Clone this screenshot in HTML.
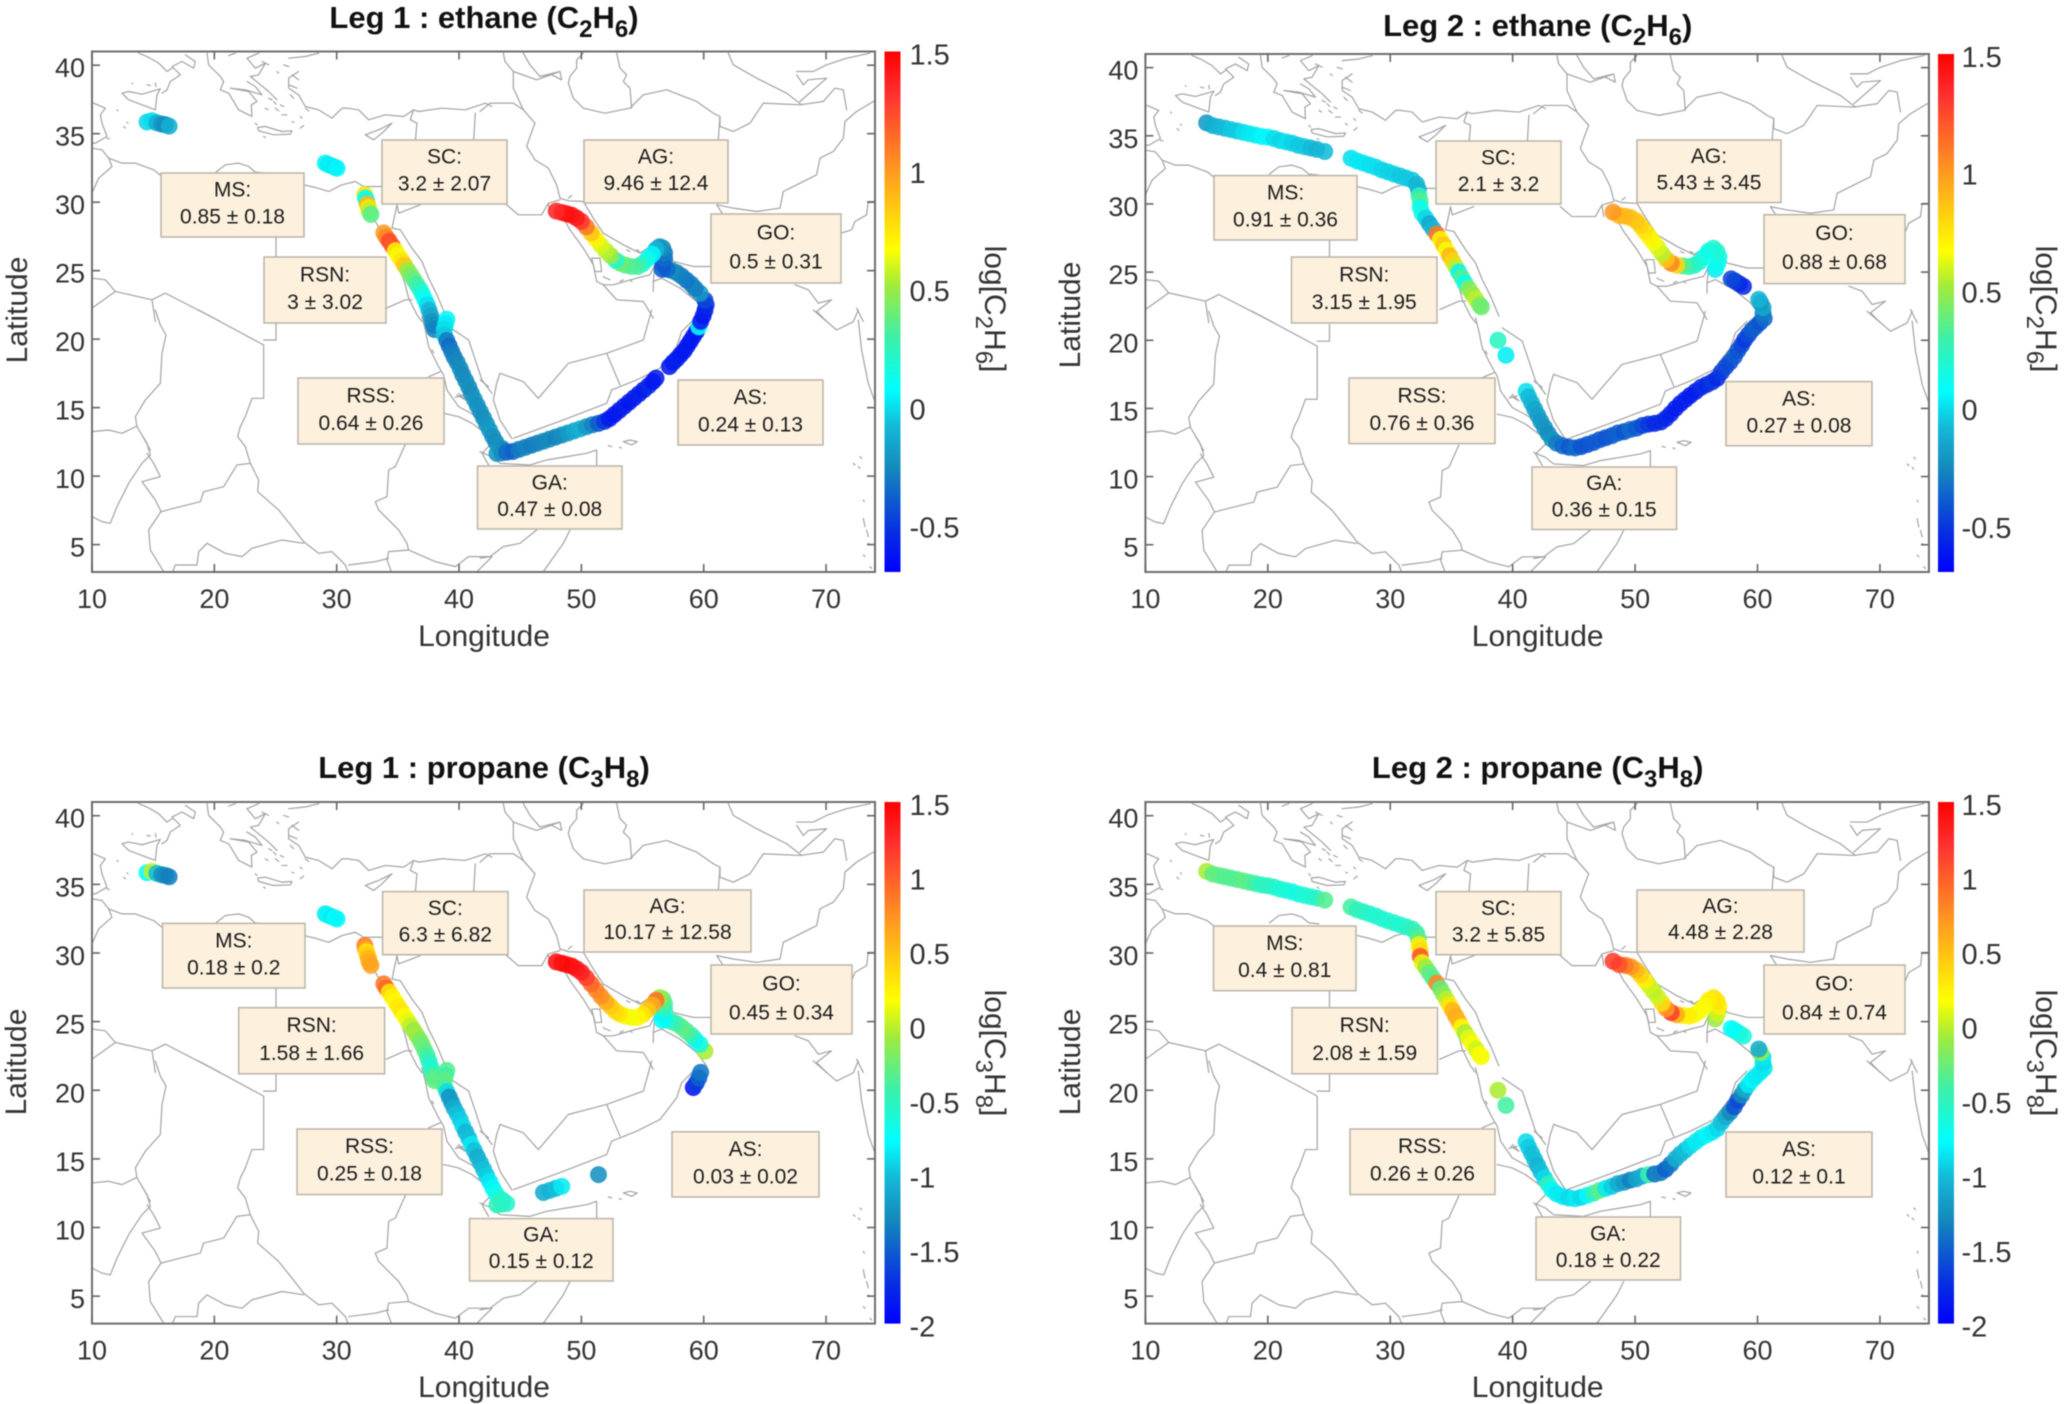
<!DOCTYPE html>
<html lang="en">
<head>
<meta charset="utf-8">
<title>Ethane and propane along ship route</title>
<style>
html,body{margin:0;padding:0;background:#fff;width:2067px;height:1404px;overflow:hidden}
svg#figure{position:absolute;left:0;top:0;font-family:"Liberation Sans",sans-serif;fill:#262626;filter:blur(0.5px)}
.title{font-size:31px;font-weight:bold;text-anchor:middle;fill:#111}
.axis-label{font-size:30px;text-anchor:middle;fill:#333}
.sub{font-size:24px}
.tick-label{font-size:27px;fill:#333}
.cbar-label{font-size:29px;fill:#333}
.box{overflow:visible}
.box rect{fill:#fdf1de;stroke:#b9b4a8;stroke-width:1.5}
.box text{font-size:21px;text-anchor:middle;fill:#1c1c1c}
.map-lines{fill:none;stroke:#a2a2a2;stroke-width:3.6;stroke-linejoin:round;stroke-linecap:round}
.frame{fill:none;stroke:#6e6e6e;stroke-width:2}
.tick{stroke:#666;stroke-width:1.6}
</style>
</head>
<body>
<svg id="figure" xmlns="http://www.w3.org/2000/svg" width="2067" height="1404" viewBox="0 0 2067 1404">
<defs>
<linearGradient id="jet-bar" x1="0" y1="1" x2="0" y2="0"></linearGradient>
<g id="base-map">
  <g class="map-lines" transform="scale(0.3333)">
    <path d="M90 125L110 120L150 128L205 112L195 130L190 175L150 160L110 145Z"/>
    <path d="M140 5L165 15L200 35L225 60L240 50M280 10L310 30L305 50L270 30L240 45L265 70L235 90L225 115L210 125"/>
    <path d="M5 155L40 170L25 190L30 215L45 255L10 275L0 275"/>
    <path d="M0 290L30 295L50 320L90 335L130 335L185 355L210 375"/>
    <path d="M372 362L400 340L440 335L470 345L490 362L520 365"/>
    <path d="M636 400L670 408L710 420L750 400L790 390L815 405L830 405L870 405"/>
    <path d="M50 320L60 345L20 380L0 425"/>
    <path d="M552 558L552 618"/>
    <path d="M0 680L40 685L70 720L180 745L220 725L385 810M180 745L190 810M70 720L0 770"/>
    <path d="M805 410L850 510L880 560L920 640L940 700L950 740L975 790L990 810"/>
    <path d="M915 460L900 530L925 535L960 590L990 630L1010 680L1035 730L1060 790"/>
    <path d="M915 460L920 485L985 460"/>
    <path d="M883 770L940 745L960 745"/>
    <path d="M345 5L350 40L385 75L395 90L385 115L410 125L425 150L440 175L470 190L480 195L478 160L495 150L470 120L415 110L460 115L510 130L490 105L465 90"/>
    <path d="M465 20L490 50L520 35L500 70L475 75L530 120L555 145"/>
    <path d="M465 20L500 5M430 5L410 12"/>
    <path d="M497 228L520 225L570 240L600 238L595 248L545 250L500 238Z"/>
    <path d="M680 5L640 15L590 20M620 60L590 80L590 110L620 130L640 165L680 175L720 200L750 170L765 170L800 175L830 205L880 190L935 195L965 175L955 205L975 215L970 270"/>
    <path d="M965 175L980 180L1050 170L1120 175L1180 155L1200 165"/>
    <path d="M1150 185L1145 270"/>
    <path d="M820 250L860 235L900 215L870 245L845 265Z"/>
    <path d="M510 30L530 40M555 60L560 65M600 70L620 85M590 100L615 110M530 140L540 145M545 150L552 158M565 160L575 165M570 190L585 190M600 210L606 213M625 230L635 222M640 170L650 178M520 170L528 175M550 170L560 178M490 215L495 220M595 130L605 140M575 40L590 45M515 255L520 258M625 195L630 200M95 225L100 230M75 175L78 178M105 212L108 215M45 260L52 262M120 95L122 97M165 100L175 102M190 95L192 105"/>
  </g>
  <g class="map-lines" transform="translate(388,0) scale(0.3333)">
    <path d="M70 5L75 30L100 60L100 110L130 175L165 215L150 255L140 285L165 325L205 350L230 400L240 440L265 448L310 450L340 500L370 545L430 580L480 605L510 585L540 575L580 630L640 645L695 645"/>
    <path d="M1083 545L1115 535L1125 510L1160 490L1165 450L1200 450"/>
    <path d="M720 195L715 265M710 460L760 470L830 480L900 470L910 420L960 395L1010 370L1020 320L1060 300L1090 260L1095 210L1130 180L1180 150L1200 150M710 460L730 490"/>
    <path d="M265 95L280 140L310 170L375 185L450 170L490 130L560 115L650 150L700 185L720 195L720 225L760 240L810 215L850 155L960 160L1030 150L1065 110L1090 115L1100 175"/>
    <path d="M265 95L270 75L290 50L290 25L310 5M410 5L420 50L440 70L430 90L450 110L455 170"/>
    <path d="M745 5L760 40L830 80L920 125L965 160"/>
    <path d="M950 60L1000 60L1040 40L1100 20L1170 5M950 70L970 100L985 85L1040 80L960 150"/>
    <path d="M130 5L150 40L180 75L240 60L245 85L215 70M100 60L170 85L240 60"/>
    <path d="M0 180L30 155L100 155L130 175"/>
    <path d="M80 460L115 490L185 490L205 455L240 445M205 455L210 490"/>
    <path d="M245 490L270 535L310 590L340 640L350 690L370 700L400 700L470 680L510 670L525 640L520 690L545 680L600 710L650 750L680 790"/>
    <path d="M335 620L345 660L365 660L360 620Z"/>
    <path d="M370 700L410 745L490 750L520 800M520 690L520 720"/>
    <path d="M945 700L985 715L1015 755L1055 745L1010 780L1040 810M1130 770L1150 810"/>
    <path d="M380 680L390 685M440 595L450 600M470 595L478 600M370 675L376 680M265 440L275 432M420 690L430 685M450 685L456 690"/>
  </g>
  <g class="map-lines" transform="translate(0,258.5) scale(0.3333)">
    <path d="M320 0L515 105L515 265L480 265L460 320L445 350L437 380L460 410L475 460L500 510L497 545L560 600L600 650L635 695L680 730L720 725L760 765L770 790"/>
    <path d="M515 90L552 90L552 40"/>
    <path d="M190 0L205 45L222 75L210 130L205 220L160 270L130 320L135 350L165 400L175 435L150 460L110 520L75 590L55 640L30 635L0 620"/>
    <path d="M135 348L90 370L50 360L0 365"/>
    <path d="M150 375L175 420M150 515L205 500L185 460L165 430M150 515L190 570L207 605L245 595L325 575L335 545L395 530L435 465L475 460"/>
    <path d="M207 605L170 660L175 720L215 785"/>
    <path d="M240 790L250 765L315 765L320 725L345 700L400 730L450 740L480 715L570 690L635 700"/>
    <path d="M1055 310L1100 320L1140 340L1200 385"/>
    <path d="M940 403L910 470L890 480L885 560L850 575L860 600L920 660L945 700L950 720L890 725L885 750L900 790"/>
    <path d="M950 720L1030 755L1090 770L1130 740L1200 740L1150 790M770 765L850 755L890 745"/>
    <path d="M990 20L1000 60L1010 110L1040 170L1055 195L1065 240L1100 290L1155 320L1200 375"/>
    <path d="M1010 200L1045 185"/>
    <path d="M1070 50L1130 90L1170 210L1200 250"/>
    <path d="M1100 250L1120 270L1095 255M1165 210L1190 230M1020 120L1025 128M1090 262L1115 255M1200 400L1170 430L1190 465"/>
  </g>
  <g class="map-lines" transform="translate(388,258.5) scale(0.3333)">
    <path d="M100 385L250 330L380 280L395 240L470 210L540 175L590 110L605 65L640 30"/>
    <path d="M60 190L130 215L175 265L265 160L380 130L490 90L515 0M380 130L420 225"/>
    <path d="M60 190L50 220L40 270L60 330L95 385"/>
    <path d="M430 395L450 390L472 395L455 405Z"/>
    <path d="M385 407L395 410M418 412L424 414"/>
    <path d="M0 425L35 440L60 460L150 465L200 450L260 440L320 430L350 420L350 470"/>
    <path d="M270 660L250 700L190 785M170 660L120 700L70 710L30 740L0 745"/>
    <path d="M1000 0L1070 60L1120 35L1135 0M1135 30L1145 120L1165 220L1190 290"/>
    <path d="M1120 460L1125 465M1140 440L1145 445M1135 470L1140 475M1150 570L1153 575M1150 625L1155 650M1160 660L1165 680M1150 735L1155 740M1165 700L1170 705M1170 770L1175 775"/>
  </g>
</g>
<clipPath id="panel-clip"><rect x="0" y="0" width="783" height="520.5"/></clipPath>
</defs>

<!-- Panel 1 -->
<g>
  <text class="title" x="484" y="28">Leg 1 : ethane (C<tspan class="sub" dy="9">2</tspan><tspan dy="-9">H</tspan><tspan class="sub" dy="9">6</tspan><tspan dy="-9">)</tspan></text>
  <use href="#base-map" clip-path="url(#panel-clip)" transform="translate(92,51.5)"/>
  <g id="points-0"></g>
  <svg class="box" x="161" y="173" width="143" height="64"><rect width="100%" height="100%"/><text x="50%" y="37%">MS:</text><text x="50%" y="79%">0.85 ± 0.18</text></svg>
  <svg class="box" x="382" y="140" width="125" height="64"><rect width="100%" height="100%"/><text x="50%" y="37%">SC:</text><text x="50%" y="79%">3.2 ± 2.07</text></svg>
  <svg class="box" x="584" y="140" width="144" height="63"><rect width="100%" height="100%"/><text x="50%" y="37%">AG:</text><text x="50%" y="79%">9.46 ± 12.4</text></svg>
  <svg class="box" x="711" y="214" width="130" height="69"><rect width="100%" height="100%"/><text x="50%" y="37%">GO:</text><text x="50%" y="79%">0.5 ± 0.31</text></svg>
  <svg class="box" x="264" y="257" width="122" height="66"><rect width="100%" height="100%"/><text x="50%" y="37%">RSN:</text><text x="50%" y="79%">3 ± 3.02</text></svg>
  <svg class="box" x="298" y="378" width="146" height="66"><rect width="100%" height="100%"/><text x="50%" y="37%">RSS:</text><text x="50%" y="79%">0.64 ± 0.26</text></svg>
  <svg class="box" x="477.500" y="466" width="144.500" height="63"><rect width="100%" height="100%"/><text x="50%" y="37%">GA:</text><text x="50%" y="79%">0.47 ± 0.08</text></svg>
  <svg class="box" x="678" y="380" width="145" height="65"><rect width="100%" height="100%"/><text x="50%" y="37%">AS:</text><text x="50%" y="79%">0.24 ± 0.13</text></svg>
  <rect class="frame" x="92" y="51.5" width="783" height="520.5"/>
  <g id="axes-0"></g>
  <rect x="884.500" y="51.500" width="16" height="520.500" fill="url(#jet-bar)"/>
  <text class="axis-label" x="484" y="646">Longitude</text>
  <text class="axis-label" transform="translate(27,310) rotate(-90)">Latitude</text>
  <text class="axis-label" transform="translate(985,309) rotate(90)">log[C<tspan class="sub" dy="9">2</tspan><tspan dy="-9">H</tspan><tspan class="sub" dy="9">6</tspan><tspan dy="-9">]</tspan></text>
</g>

<!-- Panel 2 -->
<g>
  <text class="title" x="1537.700" y="36">Leg 2 : ethane (C<tspan class="sub" dy="9">2</tspan><tspan dy="-9">H</tspan><tspan class="sub" dy="9">6</tspan><tspan dy="-9">)</tspan></text>
  <use href="#base-map" clip-path="url(#panel-clip)" transform="translate(1145.400,54) scale(1.0006,0.9954)"/>
  <g id="points-1"></g>
  <svg class="box" x="1214" y="175.600" width="143" height="64.400"><rect width="100%" height="100%"/><text x="50%" y="37%">MS:</text><text x="50%" y="79%">0.91 ± 0.36</text></svg>
  <svg class="box" x="1436" y="141" width="125" height="63"><rect width="100%" height="100%"/><text x="50%" y="37%">SC:</text><text x="50%" y="79%">2.1 ± 3.2</text></svg>
  <svg class="box" x="1637" y="140" width="144" height="62.500"><rect width="100%" height="100%"/><text x="50%" y="37%">AG:</text><text x="50%" y="79%">5.43 ± 3.45</text></svg>
  <svg class="box" x="1764" y="214.700" width="141" height="68.900"><rect width="100%" height="100%"/><text x="50%" y="37%">GO:</text><text x="50%" y="79%">0.88 ± 0.68</text></svg>
  <svg class="box" x="1291.500" y="257" width="145.500" height="66"><rect width="100%" height="100%"/><text x="50%" y="37%">RSN:</text><text x="50%" y="79%">3.15 ± 1.95</text></svg>
  <svg class="box" x="1349" y="378" width="146" height="65.600"><rect width="100%" height="100%"/><text x="50%" y="37%">RSS:</text><text x="50%" y="79%">0.76 ± 0.36</text></svg>
  <svg class="box" x="1532" y="467" width="144.500" height="62.500"><rect width="100%" height="100%"/><text x="50%" y="37%">GA:</text><text x="50%" y="79%">0.36 ± 0.15</text></svg>
  <svg class="box" x="1726" y="381.600" width="146" height="64.200"><rect width="100%" height="100%"/><text x="50%" y="37%">AS:</text><text x="50%" y="79%">0.27 ± 0.08</text></svg>
  <rect class="frame" x="1145.400" y="54" width="783.500" height="518"/>
  <g id="axes-1"></g>
  <rect x="1938" y="54" width="16" height="518" fill="url(#jet-bar)"/>
  <text class="axis-label" x="1537.700" y="646">Longitude</text>
  <text class="axis-label" transform="translate(1080,315) rotate(-90)">Latitude</text>
  <text class="axis-label" transform="translate(2036,309) rotate(90)">log[C<tspan class="sub" dy="9">2</tspan><tspan dy="-9">H</tspan><tspan class="sub" dy="9">6</tspan><tspan dy="-9">]</tspan></text>
</g>

<!-- Panel 3 -->
<g>
  <text class="title" x="484" y="778">Leg 1 : propane (C<tspan class="sub" dy="9">3</tspan><tspan dy="-9">H</tspan><tspan class="sub" dy="9">8</tspan><tspan dy="-9">)</tspan></text>
  <use href="#base-map" clip-path="url(#panel-clip)" transform="translate(92,802) scale(1,1.0021)"/>
  <g id="points-2"></g>
  <svg class="box" x="162.500" y="923.400" width="142.500" height="64.600"><rect width="100%" height="100%"/><text x="50%" y="37%">MS:</text><text x="50%" y="79%">0.18 ± 0.2</text></svg>
  <svg class="box" x="382.600" y="891.600" width="125.400" height="63.100"><rect width="100%" height="100%"/><text x="50%" y="37%">SC:</text><text x="50%" y="79%">6.3 ± 6.82</text></svg>
  <svg class="box" x="584" y="890" width="167" height="62"><rect width="100%" height="100%"/><text x="50%" y="37%">AG:</text><text x="50%" y="79%">10.17 ± 12.58</text></svg>
  <svg class="box" x="711" y="965" width="141" height="69"><rect width="100%" height="100%"/><text x="50%" y="37%">GO:</text><text x="50%" y="79%">0.45 ± 0.34</text></svg>
  <svg class="box" x="238.700" y="1007.700" width="145.900" height="66.100"><rect width="100%" height="100%"/><text x="50%" y="37%">RSN:</text><text x="50%" y="79%">1.58 ± 1.66</text></svg>
  <svg class="box" x="297" y="1129" width="145" height="65.500"><rect width="100%" height="100%"/><text x="50%" y="37%">RSS:</text><text x="50%" y="79%">0.25 ± 0.18</text></svg>
  <svg class="box" x="469.500" y="1218.600" width="143.500" height="62.400"><rect width="100%" height="100%"/><text x="50%" y="37%">GA:</text><text x="50%" y="79%">0.15 ± 0.12</text></svg>
  <svg class="box" x="672" y="1131.800" width="147" height="65.200"><rect width="100%" height="100%"/><text x="50%" y="37%">AS:</text><text x="50%" y="79%">0.03 ± 0.02</text></svg>
  <rect class="frame" x="92" y="802" width="783" height="521.600"/>
  <g id="axes-2"></g>
  <rect x="884.500" y="802" width="16" height="521.600" fill="url(#jet-bar)"/>
  <text class="axis-label" x="484" y="1397">Longitude</text>
  <text class="axis-label" transform="translate(26,1062) rotate(-90)">Latitude</text>
  <text class="axis-label" transform="translate(985,1053) rotate(90)">log[C<tspan class="sub" dy="9">3</tspan><tspan dy="-9">H</tspan><tspan class="sub" dy="9">8</tspan><tspan dy="-9">]</tspan></text>
</g>

<!-- Panel 4 -->
<g>
  <text class="title" x="1537.700" y="778">Leg 2 : propane (C<tspan class="sub" dy="9">3</tspan><tspan dy="-9">H</tspan><tspan class="sub" dy="9">8</tspan><tspan dy="-9">)</tspan></text>
  <use href="#base-map" clip-path="url(#panel-clip)" transform="translate(1145.400,802) scale(1.0006,1.0021)"/>
  <g id="points-3"></g>
  <svg class="box" x="1213.500" y="926" width="142.500" height="64.700"><rect width="100%" height="100%"/><text x="50%" y="37%">MS:</text><text x="50%" y="79%">0.4 ± 0.81</text></svg>
  <svg class="box" x="1436" y="891.600" width="125" height="63.100"><rect width="100%" height="100%"/><text x="50%" y="37%">SC:</text><text x="50%" y="79%">3.2 ± 5.85</text></svg>
  <svg class="box" x="1637" y="890" width="167" height="62"><rect width="100%" height="100%"/><text x="50%" y="37%">AG:</text><text x="50%" y="79%">4.48 ± 2.28</text></svg>
  <svg class="box" x="1764" y="965" width="141" height="69"><rect width="100%" height="100%"/><text x="50%" y="37%">GO:</text><text x="50%" y="79%">0.84 ± 0.74</text></svg>
  <svg class="box" x="1292" y="1007.700" width="145.500" height="66.100"><rect width="100%" height="100%"/><text x="50%" y="37%">RSN:</text><text x="50%" y="79%">2.08 ± 1.59</text></svg>
  <svg class="box" x="1350" y="1129" width="145" height="65.500"><rect width="100%" height="100%"/><text x="50%" y="37%">RSS:</text><text x="50%" y="79%">0.26 ± 0.26</text></svg>
  <svg class="box" x="1536" y="1217" width="144.500" height="63"><rect width="100%" height="100%"/><text x="50%" y="37%">GA:</text><text x="50%" y="79%">0.18 ± 0.22</text></svg>
  <svg class="box" x="1726" y="1132" width="146" height="65"><rect width="100%" height="100%"/><text x="50%" y="37%">AS:</text><text x="50%" y="79%">0.12 ± 0.1</text></svg>
  <rect class="frame" x="1145.400" y="802" width="783.500" height="521.600"/>
  <g id="axes-3"></g>
  <rect x="1938" y="802" width="16" height="521.600" fill="url(#jet-bar)"/>
  <text class="axis-label" x="1537.700" y="1397">Longitude</text>
  <text class="axis-label" transform="translate(1080,1062) rotate(-90)">Latitude</text>
  <text class="axis-label" transform="translate(2036,1053) rotate(90)">log[C<tspan class="sub" dy="9">3</tspan><tspan dy="-9">H</tspan><tspan class="sub" dy="9">8</tspan><tspan dy="-9">]</tspan></text>
</g>
</svg>

<script>
// ---------- chart data ----------
const lonTicks = [10, 20, 30, 40, 50, 60, 70];
const latTicks = [5, 10, 15, 20, 25, 30, 35, 40];
const ethaneTicks = [-0.5, 0, 0.5, 1, 1.5];
const propaneTicks = [-2, -1.5, -1, -0.5, 0, 0.5, 1, 1.5];

const leg1Lon = [14.5,14.9,15.3,15.7,16.0,16.3,
 29.07,29.3,29.6,29.85,30.03,
 32.3,32.35,32.45,32.5,32.6,32.65,32.8,
 33.85,34.05,34.3,34.55,34.8,35.05,35.3,35.55,35.8,36.05,36.3,36.55,36.8,37.0,37.2,37.4,37.55,37.7,37.8,37.9,38.0,
 39.0,38.9,38.8,38.8,39.0,39.2,39.4,39.6,39.85,40.1,40.3,40.55,40.8,41.0,41.25,41.5,41.75,42.0,42.25,42.5,42.75,43.0,43.3,43.55,43.1,
 43.5,43.9,44.4,44.9,45.4,45.9,46.4,46.9,47.4,47.9,48.4,48.9,49.4,49.9,50.4,50.9,51.4,51.9,52.3,52.7,53.1,53.5,53.9,54.3,54.7,55.1,55.5,55.85,56.1,
 57.2,57.5,57.8,58.1,58.4,58.65,58.9,59.15,59.4,59.6,59.75,59.95,60.1,60.2,60.1,
 59.7,59.3,59.0,58.6,58.2,57.8,57.4,57.0,56.6,
 56.65,56.8,56.8,56.65,56.4,56.1,55.8,55.4,55.0,54.6,54.1,53.6,53.15,52.8,52.4,52.0,51.6,51.2,50.8,50.4,50.0,49.6,49.2,48.8,48.4,47.95];
const leg1Lat = [35.85,35.95,35.8,35.7,35.65,35.55,
 32.85,32.75,32.65,32.55,32.48,
 30.55,30.3,30.1,29.85,29.6,29.35,29.1,
 27.75,27.45,27.15,26.8,26.45,26.1,25.75,25.4,25.05,24.7,24.35,24.0,23.65,23.3,22.9,22.5,22.1,21.7,21.3,21.0,20.7,
 21.45,21.1,20.7,20.3,19.9,19.5,19.1,18.7,18.3,17.85,17.4,16.95,16.5,16.05,15.6,15.15,14.7,14.25,13.8,13.35,12.9,12.5,12.1,12.0,11.65,
 11.7,11.75,11.8,11.95,12.1,12.25,12.4,12.55,12.7,12.85,13.0,13.15,13.3,13.45,13.6,13.75,13.85,14.0,14.2,14.5,14.8,15.1,15.4,15.7,16.0,16.3,16.6,16.9,17.15,
 18.0,18.3,18.55,18.85,19.15,19.5,19.85,20.2,20.55,20.9,21.3,21.7,22.1,22.5,22.85,
 23.35,23.7,24.0,24.3,24.6,24.85,25.0,25.1,25.1,
 25.5,25.9,26.3,26.65,26.75,26.55,26.2,25.85,25.5,25.3,25.3,25.4,25.55,25.75,26.1,26.45,26.85,27.3,27.75,28.2,28.6,28.85,29.05,29.15,29.25,29.35];
const leg1Ethane = [-0.02,0.0,-0.12,-0.22,-0.25,-0.12,
 0.05,0.03,0.04,0.02,0.05,
 0.75,0.1,0.15,0.9,0.75,0.55,0.35,
 1.0,1.05,1.25,1.2,0.7,0.65,0.75,0.85,0.5,0.42,0.38,0.3,0.25,0.15,0.08,0.0,-0.1,-0.15,-0.22,-0.25,-0.28,
 0.05,0.03,0.0,-0.05,-0.3,-0.35,-0.3,-0.28,-0.27,-0.25,-0.26,-0.25,-0.24,-0.25,-0.22,-0.24,-0.23,-0.25,-0.22,-0.2,-0.23,-0.25,-0.22,-0.25,-0.2,
 -0.25,-0.35,-0.38,-0.3,-0.28,-0.3,-0.28,-0.27,-0.26,-0.28,-0.25,-0.2,-0.15,-0.12,-0.2,-0.28,-0.4,-0.5,-0.6,-0.62,-0.6,-0.58,-0.62,-0.6,-0.58,-0.6,-0.55,-0.62,-0.6,
 -0.62,-0.6,-0.58,-0.6,-0.62,-0.6,-0.62,-0.6,-0.62,0.08,-0.6,-0.62,-0.58,-0.55,-0.45,
 -0.2,-0.3,-0.28,-0.32,-0.3,-0.28,-0.25,-0.35,-0.4,
 -0.4,-0.35,-0.3,-0.25,-0.22,-0.1,0.05,0.12,0.18,0.3,0.33,0.35,0.4,0.2,0.5,0.55,0.6,0.7,0.85,1.1,1.3,1.4,1.42,1.45,1.42,1.35];
const leg1Propane = [-0.75,0.0,-1.0,-1.25,-1.3,-1.35,
 -0.85,-0.8,-0.85,-0.75,-0.8,
 0.85,0.65,0.3,0.45,0.55,0.6,0.65,
 0.85,0.95,0.3,0.25,0.2,0.28,0.3,0.18,0.1,0.0,-0.1,-0.08,-0.2,-0.25,-0.3,-0.4,-0.5,-0.6,-0.55,-0.35,-0.3,
 -0.35,-0.4,-0.3,-0.35,-0.9,-1.25,-1.2,-1.1,-1.0,-0.95,-0.9,-1.05,-1.0,-0.85,-1.0,-1.1,-1.05,-1.0,-0.95,-0.85,-0.8,-0.7,-0.6,-0.55,-0.5,
 -0.5,-0.55,null,null,null,null,null,-1.1,-1.05,-1.0,-0.85,null,null,null,null,null,-1.25,null,null,null,null,null,null,null,null,null,null,null,null,
 null,null,null,null,null,null,null,-1.9,-1.65,-1.5,-1.4,null,null,null,-0.05,
 -0.65,-0.8,-0.5,-0.35,-0.3,-0.4,-0.45,-0.6,-0.75,
 -0.8,-0.55,-0.4,-0.3,-0.1,0.9,0.6,0.45,0.3,0.2,0.15,0.15,0.3,0.35,0.45,0.6,0.75,0.8,0.95,1.15,1.3,1.35,1.4,1.4,1.45,1.4];

const leg2Lon = [15.0,15.5,16,16.5,17,17.5,18,18.5,19,19.5,20,20.5,21,21.5,22,22.5,23,23.5,24,24.65,
 26.8,27.3,27.8,28.3,28.8,29.3,29.8,30.3,30.8,31.3,31.8,32.15,32.3,32.35,32.45,32.45,32.6,32.9,33.2,33.5,33.8,34.1,34.35,34.6,34.85,35.1,35.35,35.6,35.85,36.1,36.4,36.7,37.0,37.3,37.45,
 38.8,39.45,
 41.1,41.3,41.55,41.8,42.05,42.3,42.6,42.9,43.2,43.6,44.1,44.6,45.1,45.6,46.1,46.6,47.1,47.6,48.1,48.6,49.1,49.6,50.1,50.6,51.1,51.6,52.1,52.5,52.9,53.3,53.7,54.1,54.5,54.95,55.4,55.85,56.3,56.7,57.05,57.4,57.75,58.1,58.4,58.7,58.95,59.25,59.55,59.85,60.2,60.55,60.45,60.45,60.25,60.1,
 58.85,58.5,58.15,57.85,
 56.55,56.75,56.85,56.7,56.4,56.0,55.65,55.25,54.85,54.4,53.9,53.4,52.95,52.55,52.2,51.85,51.5,51.15,50.8,50.45,50.1,49.65,49.2,48.7,48.2];
const leg2Lat = [35.95,35.75,35.65,35.55,35.45,35.35,35.25,35.15,35.05,34.95,34.9,34.8,34.65,34.55,34.45,34.3,34.2,34.1,34.0,33.85,
 33.35,33.15,33.0,32.85,32.7,32.5,32.35,32.2,32.05,31.9,31.75,31.45,31.05,30.6,30.2,29.75,29.3,28.95,28.55,28.15,27.8,27.4,27.0,26.6,26.2,25.8,25.4,25.0,24.6,24.2,23.8,23.4,23.0,22.6,22.45,
 20.0,18.9,
 16.25,15.85,15.4,14.95,14.5,14.05,13.6,13.15,12.75,12.45,12.25,12.15,12.1,12.2,12.35,12.5,12.7,12.85,13.0,13.2,13.3,13.45,13.55,13.75,13.85,13.9,14.0,14.25,14.6,15.0,15.35,15.65,15.95,16.25,16.55,16.75,16.95,17.2,17.65,18.05,18.4,18.8,19.25,19.65,20.05,20.4,20.75,21.0,21.3,21.6,22.0,22.4,22.75,23.0,
 23.95,24.15,24.35,24.5,
 25.2,25.6,26.1,26.5,26.75,26.55,26.1,25.75,25.5,25.4,25.45,25.5,25.65,25.95,26.35,26.8,27.2,27.6,28.0,28.4,28.75,29.0,29.1,29.15,29.4];
const leg2Ethane = [-0.2,-0.12,-0.1,-0.08,-0.05,-0.05,0.0,0.02,0.03,0.05,0.05,0.0,-0.02,0.0,-0.03,-0.05,-0.05,-0.08,-0.1,-0.08,
 0.0,0.02,0.02,0.0,0.0,-0.02,-0.03,-0.03,-0.05,-0.05,-0.05,-0.1,-0.1,0.25,0.35,0.1,0.15,-0.02,-0.15,-0.1,1.1,0.7,0.85,0.65,0.9,0.8,0.55,0.05,0.35,0.1,0.45,0.5,0.55,0.45,0.4,
 0.22,0.03,
 0.0,-0.08,-0.1,-0.15,-0.18,-0.2,-0.22,-0.25,-0.22,-0.3,-0.35,-0.4,-0.35,-0.42,-0.42,-0.4,-0.4,-0.42,-0.4,-0.38,-0.42,-0.35,-0.4,-0.45,-0.5,-0.55,-0.55,-0.55,-0.58,-0.6,-0.6,-0.58,-0.6,-0.6,-0.55,-0.55,-0.5,-0.55,-0.5,-0.45,-0.45,-0.4,-0.42,-0.45,-0.5,-0.45,-0.4,-0.38,-0.42,-0.35,-0.3,-0.15,-0.2,-0.1,
 -0.55,-0.55,-0.5,-0.45,
 0.03,0.1,0.12,0.18,0.2,0.15,0.12,0.15,0.2,0.25,0.35,0.8,1.05,0.85,0.55,0.6,0.65,0.7,0.75,0.8,0.85,0.85,0.9,0.9,1.0];
const leg2Propane = [-0.05,-0.3,-0.3,-0.35,-0.35,-0.35,-0.3,-0.35,-0.4,-0.55,-0.5,-0.55,-0.6,-0.6,-0.65,-0.65,-0.6,-0.6,-0.55,-0.35,
 -0.4,-0.5,-0.5,-0.55,-0.6,-0.55,-0.6,-0.55,-0.6,-0.55,
 -0.5,-0.45,-0.3,0.25,0.35,1.05,0.1,-0.1,-0.3,-0.35,
 0.8,-0.3,-0.15,0.0,0.3,0.55,0.6,0.55,0.2,-0.05,
 0.1,0.15,0.05,0.15,0.15,
 -0.05,-0.4,
 -0.9,-0.95,-1.0,-1.0,-1.05,-1.0,-0.9,-0.5,-0.8,-0.85,
 -0.85,-0.9,-0.85,-0.9,-0.8,-0.5,-0.3,-0.85,-0.95,-1.1,
 -1.2,-1.35,-1.15,-1.1,-0.45,-1.4,-1.35,-1.5,-1.4,-1.1,
 -1.05,-1.0,-0.9,-0.85,-0.85,-0.8,-0.85,-0.9,-1.0,-1.1,
 -1.3,-1.55,-1.6,-1.3,-1.1,-0.85,-0.8,-0.85,-0.85,-0.85,
 -0.9,-0.85,-0.1,-1.1,
 -0.65,-0.6,-0.7,-0.75,
 -0.1,0.05,0.25,0.3,0.3,0.25,0.15,0.2,0.15,0.25,0.25,0.6,1.15,0.7,0.35,0.05,0.0,0.05,0.25,0.4,0.55,0.7,0.85,1.05,1.15];

// ---------- layout ----------
const NS = 'http://www.w3.org/2000/svg';
const LON_MIN = 10, LON_MAX = 74, LAT_MIN = 3, LAT_MAX = 41;
const RADIUS = 8.5, TICK_LEN = 8;
const panels = [
  {x:92,     y:51.5, w:783,   h:520.5, lon:leg1Lon, lat:leg1Lat, val:leg1Ethane,  cmin:-0.7, cmax:1.5, cticks:ethaneTicks,  cbx:909.5},
  {x:1145.4, y:54,   w:783.5, h:518,   lon:leg2Lon, lat:leg2Lat, val:leg2Ethane,  cmin:-0.7, cmax:1.5, cticks:ethaneTicks,  cbx:1961.5},
  {x:92,     y:802,  w:783,   h:521.6, lon:leg1Lon, lat:leg1Lat, val:leg1Propane, cmin:-2,   cmax:1.5, cticks:propaneTicks, cbx:909.5},
  {x:1145.4, y:802,  w:783.5, h:521.6, lon:leg2Lon, lat:leg2Lat, val:leg2Propane, cmin:-2,   cmax:1.5, cticks:propaneTicks, cbx:1961.5}
];

// colour map (stop position, r, g, b) matching the figure's colourbar
const stops = [[0,0,0,255],[0.08,8,48,225],[0.2,20,138,188],[0.28,20,185,215],[0.35,0,255,255],[0.45,60,240,170],[0.55,160,235,60],[0.62,255,255,0],[0.77,255,154,32],[0.92,255,48,48],[1,255,0,0]];
function colorAt(t) {
  t = Math.max(0, Math.min(1, t));
  for (let i = 1; i < stops.length; i++) {
    if (t <= stops[i][0]) {
      const a = stops[i-1], b = stops[i], f = (t - a[0]) / (b[0] - a[0]);
      return 'rgb(' + [1,2,3].map(k => Math.round(a[k] + f * (b[k] - a[k]))).join(',') + ')';
    }
  }
  return 'rgb(255,0,0)';
}

const gradient = document.getElementById('jet-bar');
stops.forEach(s => {
  const st = document.createElementNS(NS, 'stop');
  st.setAttribute('offset', s[0]);
  st.setAttribute('stop-color', 'rgb(' + s[1] + ',' + s[2] + ',' + s[3] + ')');
  gradient.appendChild(st);
});

function addTick(parent, x1, y1, x2, y2) {
  const ln = document.createElementNS(NS, 'line');
  ln.setAttribute('x1', x1);
  ln.setAttribute('y1', y1);
  ln.setAttribute('x2', x2);
  ln.setAttribute('y2', y2);
  ln.setAttribute('class', 'tick');
  
  
  parent.appendChild(ln);
}
function addLabel(parent, x, y, str, anchor, cls) {
  const tx = document.createElementNS(NS, 'text');
  tx.setAttribute('x', x);
  tx.setAttribute('y', y);
  tx.setAttribute('class', cls);
  tx.setAttribute('text-anchor', anchor);
  
  
  tx.textContent = str;
  parent.appendChild(tx);
}

panels.forEach((p, idx) => {
  const sx = v => p.x + (v - LON_MIN) / (LON_MAX - LON_MIN) * p.w;
  const sy = v => p.y + (LAT_MAX - v) / (LAT_MAX - LAT_MIN) * p.h;
  const sc = v => p.y + (p.cmax - v) / (p.cmax - p.cmin) * p.h;
  const pts = document.getElementById('points-' + idx);
  const axes = document.getElementById('axes-' + idx);

  p.val.forEach((v, i) => {
    if (v === null) return;
    const c = document.createElementNS(NS, 'circle');
    c.setAttribute('cx', sx(p.lon[i]).toFixed(2));
    c.setAttribute('cy', sy(p.lat[i]).toFixed(2));
    c.setAttribute('r', RADIUS);
    c.setAttribute('fill', colorAt((v - p.cmin) / (p.cmax - p.cmin)));
    c.setAttribute('fill-opacity', '0.88');
    
    
    pts.appendChild(c);
  });

  lonTicks.forEach(t => {
    const x = sx(t);
    addTick(axes, x, p.y + p.h, x, p.y + p.h - TICK_LEN);
    addTick(axes, x, p.y, x, p.y + TICK_LEN);
    addLabel(axes, x, p.y + p.h + 36, String(t), 'middle', 'tick-label');
  });
  latTicks.forEach(t => {
    const y = sy(t);
    addTick(axes, p.x, y, p.x + TICK_LEN, y);
    addTick(axes, p.x + p.w, y, p.x + p.w - TICK_LEN, y);
    addLabel(axes, p.x - 7, y + 12, String(t), 'end', 'tick-label');
  });
  p.cticks.forEach(t => {
    addLabel(axes, p.cbx, sc(t) + 13, String(t), 'start', 'cbar-label');
  });
});
</script>
</body>
</html>
